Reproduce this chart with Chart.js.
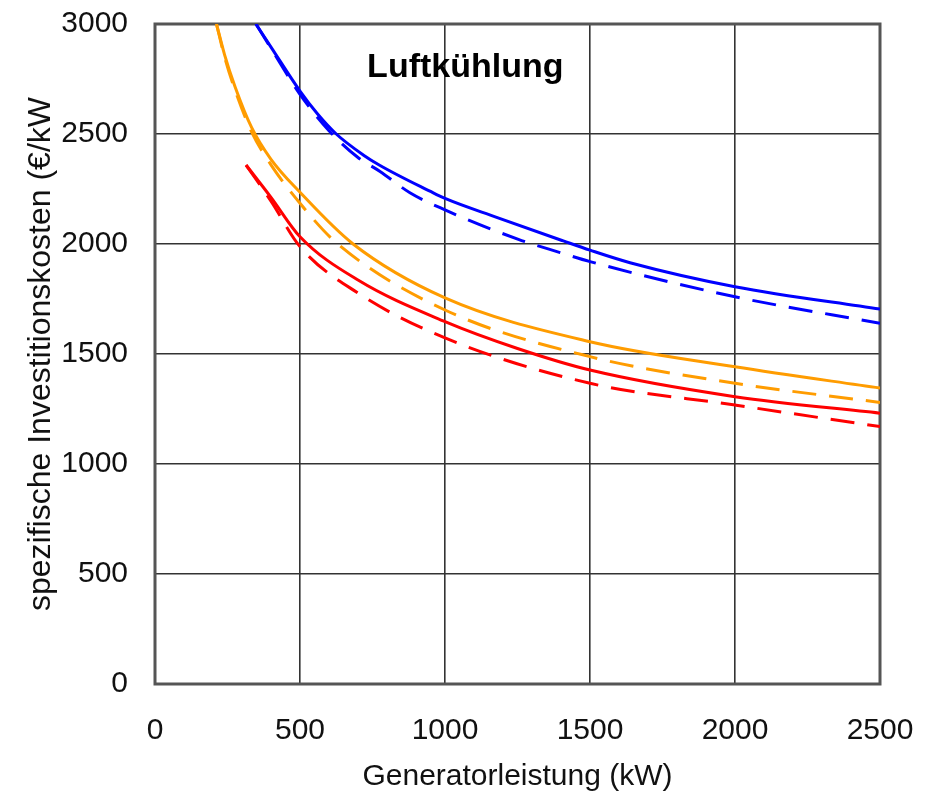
<!DOCTYPE html>
<html>
<head>
<meta charset="utf-8">
<script src="https://cdn.jsdelivr.net/npm/chart.js@4.4.1/dist/chart.umd.min.js"></script>
<style>
  html, body { margin: 0; padding: 0; background: #ffffff; }
  canvas { display: block; }
</style>
</head>
<body>
<canvas id="c" width="926" height="797"></canvas>
<script>
// ---- Data ----
const chartTitle = "Luftkühlung";
const xAxisTitle = "Generatorleistung (kW)";
const yAxisTitle = "spezifische Investitionskosten (€/kW";
const xTicks = [0, 500, 1000, 1500, 2000, 2500];
const yTicks = [0, 500, 1000, 1500, 2000, 2500, 3000];

const blueSolidX = [348, 400, 500, 560, 625, 718, 776, 948, 1000, 1178, 1408, 1500, 1638, 2000, 2500];
const blueSolidY = [3000, 2895, 2695, 2592, 2500, 2405, 2357, 2240, 2207, 2121, 2014, 1972, 1915, 1806, 1704];
const blueDashX  = [348, 400, 500, 600, 700, 776, 879, 1000, 1253, 1397, 1500, 2000, 2500];
const blueDashY  = [3000, 2890, 2680, 2515, 2393, 2330, 2233, 2155, 2021, 1961, 1920, 1760, 1640];

const orangeSolidX = [212, 240, 276, 333, 400, 500, 683, 1000, 1500, 2000, 2500];
const orangeSolidY = [3000, 2860, 2715, 2530, 2385, 2235, 2000, 1755, 1556, 1442, 1345];
const orangeDashX  = [212, 240, 276, 333, 400, 500, 626, 1000, 1500, 2000, 2500];
const orangeDashY  = [3000, 2850, 2700, 2510, 2360, 2185, 2005, 1700, 1488, 1367, 1280];

const redSolidX = [314, 400, 500, 700, 1000, 1250, 1500, 2000, 2500];
const redSolidY = [2359, 2212, 2033, 1836, 1647, 1525, 1427, 1306, 1231];
const redDashX  = [314, 400, 500, 700, 1000, 1500, 2000, 2500];
const redDashY  = [2359, 2195, 1988, 1777, 1573, 1367, 1268, 1170];

const BLUE = "#0000ff", ORANGE = "#ff9c00", RED = "#ff0000";
const FONT = "'Liberation Sans', Arial, sans-serif";

function pts(xs, ys) { return xs.map((x, i) => ({ x: x, y: ys[i] })); }
function ds(label, xs, ys, color, dashed) {
  return {
    label: label,
    data: pts(xs, ys),
    borderColor: color,
    backgroundColor: color,
    borderWidth: 3,
    borderDash: dashed ? [24, 13] : [],
    pointRadius: 0,
    fill: false,
    cubicInterpolationMode: 'monotone'
  };
}
function noPad(s) { s.paddingLeft = 0; s.paddingRight = 0; s.paddingTop = 0; s.paddingBottom = 0; }

const framePlugin = {
  id: 'frame',
  beforeDatasetsDraw(chart) {
    const a = chart.chartArea, ctx = chart.ctx;
    ctx.save();
    ctx.strokeStyle = '#555555';
    ctx.lineWidth = 3;
    ctx.strokeRect(a.left, a.top, a.right - a.left, a.bottom - a.top);
    ctx.restore();
  },
  afterDraw(chart) {
    const ctx = chart.ctx;
    const xs = chart.scales.x, ys = chart.scales.y;
    ctx.save();
    ctx.fillStyle = '#000000';
    ctx.font = "bold 34px " + FONT;
    ctx.textAlign = 'center';
    ctx.textBaseline = 'alphabetic';
    ctx.fillText(chartTitle, xs.getPixelForValue(1070), ys.getPixelForValue(2760));
    ctx.restore();
  }
};

new Chart(document.getElementById('c'), {
  type: 'line',
  data: {
    datasets: [
      ds('blau', blueSolidX, blueSolidY, BLUE, false),
      ds('blau gestrichelt', blueDashX, blueDashY, BLUE, true),
      ds('orange', orangeSolidX, orangeSolidY, ORANGE, false),
      ds('orange gestrichelt', orangeDashX, orangeDashY, ORANGE, true),
      ds('rot', redSolidX, redSolidY, RED, false),
      ds('rot gestrichelt', redDashX, redDashY, RED, true)
    ]
  },
  options: {
    responsive: false,
    animation: false,
    layout: { padding: { top: 24, right: 46, left: 0, bottom: 0 } },
    plugins: {
      legend: { display: false },
      tooltip: { enabled: false },
      title: { display: false }
    },
    scales: {
      x: {
        type: 'linear',
        min: 0, max: 2500,
        afterBuildTicks: (s) => { s.ticks = xTicks.map(v => ({ value: v })); },
        afterFit: (s) => { s.height = 113; noPad(s); },
        ticks: { color: '#111', font: { family: FONT, size: 30 }, padding: 29, maxRotation: 0,
                 callback: (v) => String(v) },
        grid: { color: '#333333', lineWidth: 1.6, drawTicks: false },
        border: { display: false },
        title: {
          display: true, text: xAxisTitle, color: '#111',
          font: { family: FONT, size: 30 }, padding: { top: 0, bottom: 2 }
        }
      },
      y: {
        type: 'linear',
        min: 0, max: 3000,
        afterBuildTicks: (s) => { s.ticks = yTicks.map(v => ({ value: v })); },
        afterFit: (s) => { s.width = 155; noPad(s); },
        ticks: { color: '#111', font: { family: FONT, size: 30 }, padding: 27,
                 callback: (v) => String(v) },
        grid: { color: '#333333', lineWidth: 1.6, drawTicks: false },
        border: { display: false },
        title: {
          display: true, text: yAxisTitle, color: '#111',
          font: { family: FONT, size: 32 }, padding: { top: 22, bottom: 0 }
        }
      }
    }
  },
  plugins: [framePlugin]
});
</script>
</body>
</html>
